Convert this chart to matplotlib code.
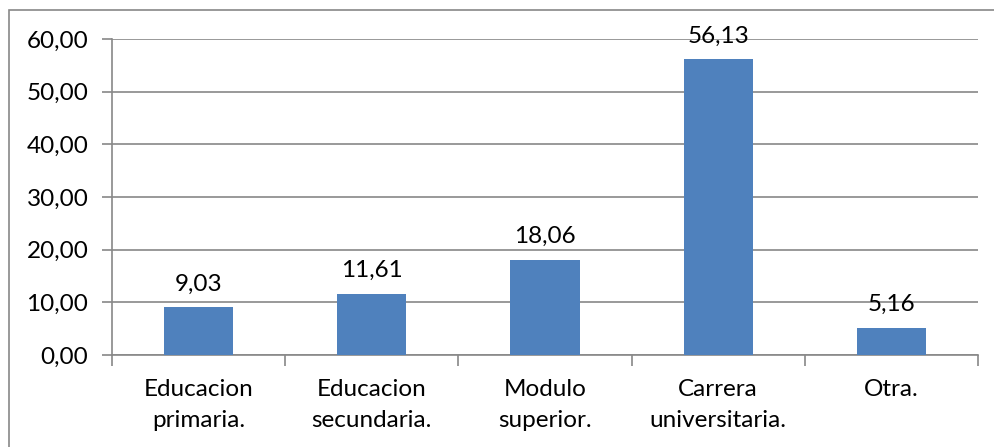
import matplotlib.pyplot as plt
from matplotlib.patches import Rectangle

categorias = ['Educacion\nprimaria.', 'Educacion\nsecundaria.', 'Modulo\nsuperior.',
              'Carrera\nuniversitaria.', 'Otra.']
valores = [9.03, 11.61, 18.06, 56.13, 5.16]
yticks = [0, 10, 20, 30, 40, 50, 60]

plt.rcParams['font.family'] = ['Lato', 'DejaVu Sans']
fs = 17.5

fig = plt.figure(figsize=(9.94, 4.47), dpi=100)
ax = fig.add_axes([112/994, 1 - 355/447, (978-112)/994, (355-39)/447])

x = range(len(valores))
bars = ax.bar(x, valores, width=0.4, color='#4F81BD', zorder=3)
for i, v in enumerate(valores):
    ax.text(i, v + 2.4, f'{v:.2f}'.replace('.', ','), ha='center', va='bottom',
            fontsize=fs, color='black')

ax.set_xlim(-0.5, len(valores) - 0.5)
ax.set_ylim(0, 60)
ax.set_yticks(yticks)
ax.set_yticklabels([f'{t:.2f}'.replace('.', ',') for t in yticks], fontsize=fs)
ax.yaxis.grid(True, color='#888888', linewidth=1.2, zorder=0)

# categorias entre marcas, como en Excel
ax.set_xticks([i - 0.5 for i in range(len(valores) + 1)])
ax.set_xticklabels([])
ax.set_xticks(list(x), minor=True)
ax.set_xticklabels(categorias, minor=True, fontsize=fs, linespacing=1.6)
ax.tick_params(axis='x', which='minor', length=0, pad=17)
ax.tick_params(axis='x', which='major', length=8, width=1.2, color='#888888')
ax.tick_params(axis='y', length=7, width=1.2, color='#888888', pad=10)

for s in ['top', 'right']:
    ax.spines[s].set_visible(False)
for s in ['left', 'bottom']:
    ax.spines[s].set_color('#888888')
    ax.spines[s].set_linewidth(1.2)

fig.patches.append(Rectangle((9/994, -0.1), 1.2, 1 - 10/447 + 0.1, transform=fig.transFigure,
                             fill=False, edgecolor='#888888', linewidth=1.2))

fig.savefig('out.png', dpi=100)
